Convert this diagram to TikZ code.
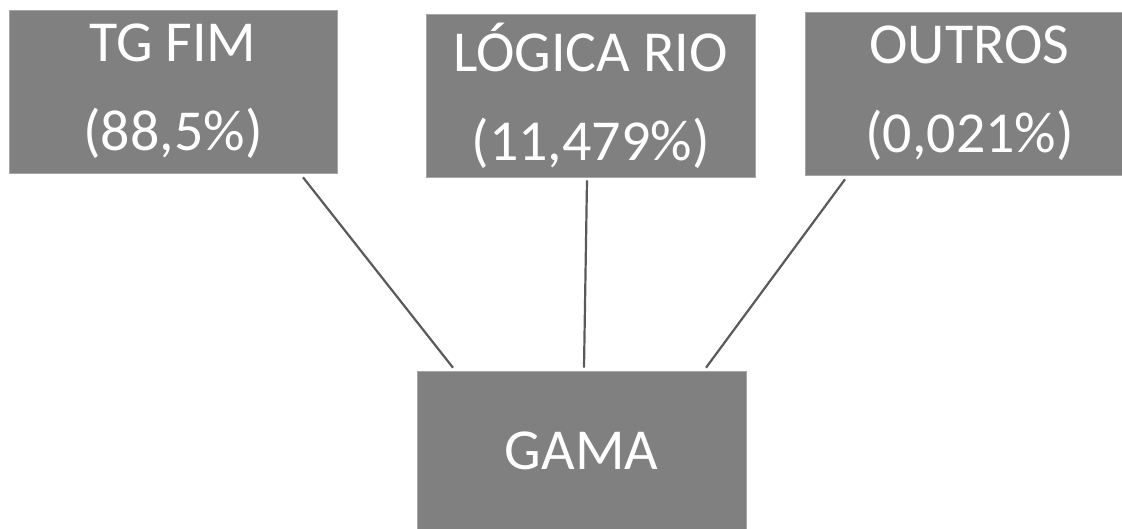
\documentclass[tikz,border=0pt]{standalone}
\usepackage{fontspec}
\setmainfont{Carlito}
\definecolor{boxgray}{HTML}{808080}
\definecolor{boxedge}{HTML}{A6A6A6}
\definecolor{linegray}{HTML}{5A5A5A}
\tikzset{
  gbox/.style={rectangle, fill=boxgray, draw=boxedge, line width=0.6pt, inner sep=0pt,
    text=white, align=center, font=\fontsize{58}{89}\selectfont},
  link/.style={draw=linegray, line width=2.2pt}
}
\begin{document}
\begin{tikzpicture}[x=1pt,y=-1pt]
\clip (0,0) rectangle (1122,528);
\fill[white] (0,0) rectangle (1122,528);
\node[gbox, minimum width=328pt, minimum height=163pt] (tg) at (173,91.5) {TG FIM\\(88,5\%)};
\node[gbox, minimum width=329pt, minimum height=163pt] (lr) at (590.5,95.5) {LÓGICA RIO\\(11,479\%)};
\node[gbox, minimum width=329pt, minimum height=163pt] (ou) at (969.5,93.5) {OUTROS\\(0,021\%)};
\node[gbox, minimum width=329pt, minimum height=163pt] (gm) at (581.5,452.5) {};
\node[text=white, font=\fontsize{58}{67}\selectfont, inner sep=0pt] (gmt) at (581.5,451) {GAMA};
\draw[link] ([xshift=130pt,yshift=-4pt]tg.south) -- ([xshift=-128.5pt,yshift=3pt]gm.north);
\draw[link] ([xshift=-3.5pt,yshift=-3pt]lr.south) -- ([xshift=2.5pt,yshift=3pt]gm.north);
\draw[link] ([xshift=-124.5pt,yshift=-4pt]ou.south) -- ([xshift=124.5pt,yshift=3pt]gm.north);
\end{tikzpicture}
\end{document}
